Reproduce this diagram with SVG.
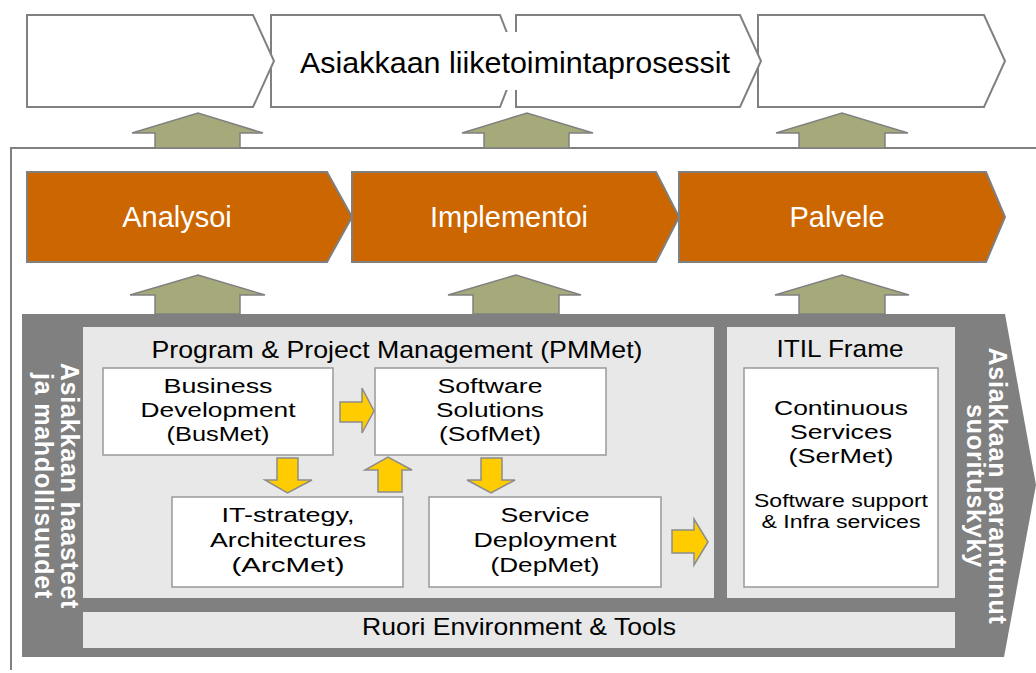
<svg xmlns="http://www.w3.org/2000/svg" width="1036" height="673" viewBox="0 0 1036 673">
<style>
.t{font-family:"Liberation Sans",Arial,sans-serif;text-anchor:middle;fill:#000}
.wb{fill:#fff;stroke:#808080;stroke-width:2}
.chev{fill:#CC6600;stroke:#7f7f7f;stroke-width:2}
.ga{fill:#A6A97A;stroke:#808080;stroke-width:1.5}
.ya{fill:#FFCC00;stroke:#8c8c8c;stroke-width:1.5}
.box{fill:#fff;stroke:#999;stroke-width:1.5}
.panel{fill:#E8E8E8}
.bt{font-size:21px}
.ht{font-size:24px}
.st{font-size:18px}
.ot{font-size:29px;fill:#fff}
.vt{font-size:25px;font-weight:bold;fill:#fff;letter-spacing:0.8px}
</style>
<rect width="1036" height="673" fill="#fff"/>

<g id="process-row">
  <polygon class="wb" points="758,15 984,15 1005,61 984,107 758,107"/>
  <polygon class="wb" points="516,15 740,15 761,61 740,107 516,107"/>
  <polygon class="wb" points="271,15 500,15 518,61 500,107 271,107"/>
  <polygon class="wb" points="27,15 253,15 274,61 253,107 27,107"/>
  <rect x="295" y="32" width="440" height="58" fill="#fff"/>
  <text class="t" x="515" y="73" font-size="30" textLength="430" lengthAdjust="spacingAndGlyphs">Asiakkaan liiketoimintaprosessit</text>
</g>

<path d="M11 670 V148 H1036" fill="none" stroke="#808080" stroke-width="2"/>

<g id="analysoi">
  <polygon class="chev" points="27,172 327,172 352,217 327,262 27,262"/>
  <text class="t ot" x="177" y="227">Analysoi</text>
</g>
<g id="implementoi">
  <polygon class="chev" points="352,172 656,172 679,217 656,262 352,262"/>
  <text class="t ot" x="509" y="227">Implementoi</text>
</g>
<g id="palvele">
  <polygon class="chev" points="679,172 986,172 1005,217 986,262 679,262"/>
  <text class="t ot" x="837" y="227">Palvele</text>
</g>

<g id="frame">
  <polygon points="22,314 1005,314 1036,485 1004,657 22,657" fill="#808080"/>
  <rect class="panel" x="83" y="327" width="631" height="271"/>
  <rect class="panel" x="727" y="327" width="228" height="271"/>
  <rect class="panel" x="83" y="612" width="872" height="36"/>
  <text class="t vt" transform="translate(61,486) rotate(90)">Asiakkaan haasteet</text>
  <text class="t vt" transform="translate(35,486) rotate(90)">ja mahdollisuudet</text>
  <text class="t vt" transform="translate(989,486) rotate(90)">Asiakkaan parantunut</text>
  <text class="t vt" transform="translate(967,486) rotate(90)">suorituskyky</text>
  <text class="t ht" x="397" y="358" textLength="491" lengthAdjust="spacingAndGlyphs">Program &amp; Project Management (PMMet)</text>
  <text class="t ht" x="840" y="357" textLength="127" lengthAdjust="spacingAndGlyphs">ITIL Frame</text>
  <text class="t ht" x="519" y="635" textLength="314" lengthAdjust="spacingAndGlyphs">Ruori Environment &amp; Tools</text>
</g>

<g id="busmet">
  <rect class="box" x="103" y="368" width="230" height="87"/>
  <text class="t bt" x="218" y="393" textLength="109" lengthAdjust="spacingAndGlyphs">Business</text>
  <text class="t bt" x="218" y="417" textLength="155" lengthAdjust="spacingAndGlyphs">Development</text>
  <text class="t bt" x="218" y="441" textLength="103" lengthAdjust="spacingAndGlyphs">(BusMet)</text>
</g>
<g id="sofmet">
  <rect class="box" x="375" y="368" width="231" height="87"/>
  <text class="t bt" x="490" y="393" textLength="105" lengthAdjust="spacingAndGlyphs">Software</text>
  <text class="t bt" x="490" y="417" textLength="108" lengthAdjust="spacingAndGlyphs">Solutions</text>
  <text class="t bt" x="490" y="441" textLength="102" lengthAdjust="spacingAndGlyphs">(SofMet)</text>
</g>
<g id="arcmet">
  <rect class="box" x="172" y="497" width="231" height="90"/>
  <text class="t bt" x="288" y="522" textLength="133" lengthAdjust="spacingAndGlyphs">IT-strategy,</text>
  <text class="t bt" x="288" y="547" textLength="156" lengthAdjust="spacingAndGlyphs">Architectures</text>
  <text class="t bt" x="288" y="572" textLength="113" lengthAdjust="spacingAndGlyphs">(ArcMet)</text>
</g>
<g id="depmet">
  <rect class="box" x="429" y="497" width="232" height="90"/>
  <text class="t bt" x="545" y="522" textLength="89" lengthAdjust="spacingAndGlyphs">Service</text>
  <text class="t bt" x="545" y="547" textLength="143" lengthAdjust="spacingAndGlyphs">Deployment</text>
  <text class="t bt" x="545" y="572" textLength="109" lengthAdjust="spacingAndGlyphs">(DepMet)</text>
</g>
<g id="sermet">
  <rect class="box" x="744" y="368" width="194" height="219"/>
  <text class="t bt" x="841" y="415" textLength="134" lengthAdjust="spacingAndGlyphs">Continuous</text>
  <text class="t bt" x="841" y="439" textLength="102" lengthAdjust="spacingAndGlyphs">Services</text>
  <text class="t bt" x="841" y="463" textLength="105" lengthAdjust="spacingAndGlyphs">(SerMet)</text>
  <text class="t st" x="841" y="507" textLength="174" lengthAdjust="spacingAndGlyphs">Software support</text>
  <text class="t st" x="841" y="528" textLength="159" lengthAdjust="spacingAndGlyphs">&amp; Infra services</text>
</g>

<g id="connectors">
  <polygon class="ga" points="155,148 155,133 132,133 198,113 263,133 240,133 240,148"/>
  <polygon class="ga" points="484,148 484,133 462,133 527,113 593,133 569,133 569,148"/>
  <polygon class="ga" points="799,148 799,133 776,133 842,113 908,133 885,133 885,148"/>
  <polygon class="ga" points="155,314 155,295 130,295 198,275 265,295 240,295 240,314"/>
  <polygon class="ga" points="473,314 473,295 448,295 516,275 581,295 559,295 559,314"/>
  <polygon class="ga" points="799,314 799,295 775,295 842,275 909,295 885,295 885,314"/>
  <polygon class="ya" points="340,402 362,402 362,388 374,411 362,433 362,422 340,422"/>
  <polygon class="ya" points="277,458 298,458 298,480 312,480 287.5,493 265,480 277,480"/>
  <polygon class="ya" points="378,492 378,470 365,470 388,457 412,470 402,470 402,492"/>
  <polygon class="ya" points="481,458 502,458 502,480 515,480 491,493 467,480 481,480"/>
  <polygon class="ya" points="672,530 694,530 694,519 708,542 694,565 694,553 672,553"/>
</g>
</svg>
